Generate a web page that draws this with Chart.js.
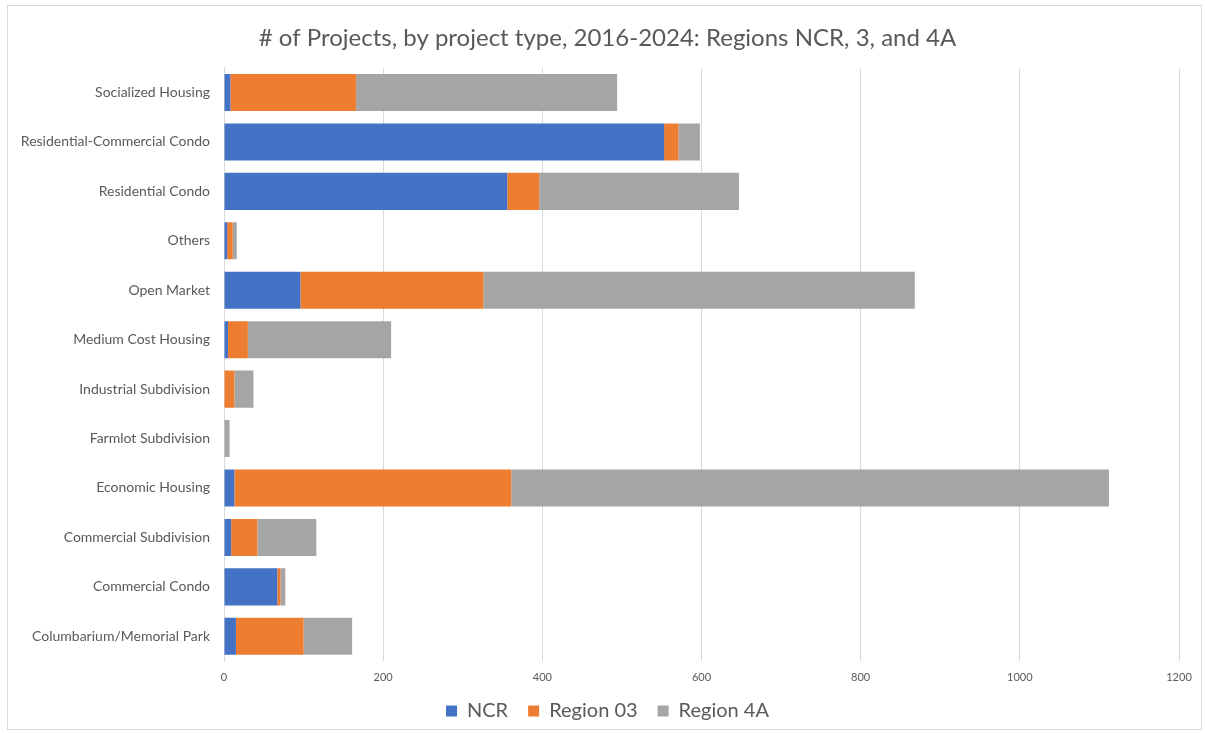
<!DOCTYPE html>
<html>
<head>
<meta charset="utf-8">
<script src="https://cdn.jsdelivr.net/npm/chart.js@4/dist/chart.umd.min.js"></script>
<style>
  html, body { margin: 0; padding: 0; background: #ffffff; }
  #wrap { position: absolute; left: 0; top: 0; width: 1205px; height: 733px; }
  #frame { position: absolute; left: 7px; top: 5px; width: 1195px; height: 725px; border: 1px solid #d9d9d9; box-sizing: border-box; pointer-events: none; }
  canvas { position: absolute; left: 0; top: 0; }
</style>
</head>
<body>
<div id="wrap">
  <canvas id="c" width="1205" height="733"></canvas>
  <div id="frame"></div>
</div>
<script>
const categories = [
  "Socialized Housing",
  "Residential-Commercial Condo",
  "Residential Condo",
  "Others",
  "Open Market",
  "Medium Cost Housing",
  "Industrial Subdivision",
  "Farmlot Subdivision",
  "Economic Housing",
  "Commercial Subdivision",
  "Commercial Condo",
  "Columbarium/Memorial Park"
];
const ncr      = [8, 553, 356, 4, 96, 5, 0, 0, 13, 9, 67, 15];
const region03 = [158, 18, 40, 7, 230, 25, 13, 0, 348, 33, 4, 85];
const region4a = [328, 27, 251, 5, 542, 180, 24, 7, 751, 74, 6, 61];
const seriesNames = ["NCR", "Region 03", "Region 4A"];
const xTicks = [0, 200, 400, 600, 800, 1000, 1200];
const titleText = "# of Projects, by project type, 2016-2024: Regions NCR, 3, and 4A";

const FONT = "Lato, 'Open Sans', sans-serif";
const TXT = "#595959";

new Chart(document.getElementById("c"), {
  type: "bar",
  data: {
    labels: categories,
    datasets: [
      { label: seriesNames[0], data: ncr, backgroundColor: "#4472C4" },
      { label: seriesNames[1], data: region03, backgroundColor: "#ED7D31" },
      { label: seriesNames[2], data: region4a, backgroundColor: "#A5A5A5" }
    ]
  },
  options: {
    indexAxis: "y",
    responsive: false,
    animation: false,
    datasets: { bar: { categoryPercentage: 1.0, barPercentage: 0.75 } },
    layout: { padding: { left: 12, right: 2, top: 0, bottom: 2 } },
    scales: {
      x: {
        stacked: true,
        min: 0,
        max: 1200,
        afterBuildTicks: (s) => { s.ticks = xTicks.map(v => ({ value: v })); },
        grid: { color: "#d9d9d9", lineWidth: 1, drawTicks: false },
        border: { display: false },
        ticks: { color: TXT, font: { family: FONT, size: 11 }, padding: 10, callback: (v) => String(v) },
        afterFit: (s) => { s.height = 20; }
      },
      y: {
        stacked: true,
        grid: { display: false, drawTicks: false },
        border: { display: true, color: "#d9d9d9" },
        ticks: { color: TXT, font: { family: FONT, size: 14 }, padding: 14 },
        afterFit: (s) => { s.width = 212; }
      },
      y2: {
        type: "linear",
        position: "right",
        display: true,
        grid: { display: false, drawTicks: false },
        border: { display: false },
        ticks: { display: false },
        afterFit: (s) => { s.width = 24; }
      }
    },
    plugins: {
      title: {
        display: true,
        text: titleText,
        color: TXT,
        font: { family: FONT, size: 24, weight: "normal" },
        padding: { top: 24, bottom: 15 }
      },
      legend: {
        position: "bottom",
        labels: {
          color: TXT,
          font: { family: FONT, size: 20 },
          boxWidth: 11,
          boxHeight: 11,
          padding: 20
        }
      },
      tooltip: { enabled: false }
    }
  }
});
</script>
</body>
</html>
